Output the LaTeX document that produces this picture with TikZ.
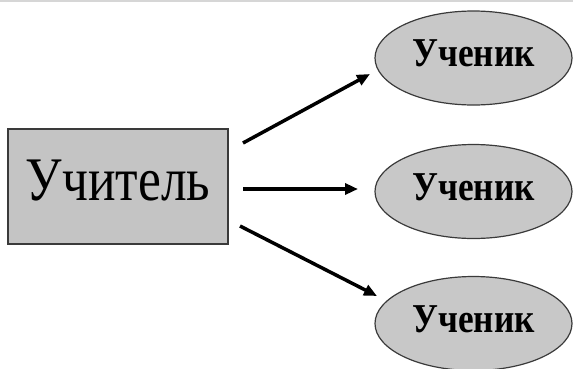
\documentclass[tikz,border=0pt]{standalone}
\usepackage{fontspec}
\setmainfont{Liberation Serif}
\usetikzlibrary{arrows.meta,shapes.geometric}
\definecolor{boxfill}{HTML}{C4C4C4}
\definecolor{ellfill}{HTML}{C8C8C8}
\definecolor{edgecol}{HTML}{3A3A3A}
\definecolor{topline}{HTML}{D6D6D6}
\begin{document}
\begin{tikzpicture}[x=1pt,y=-1pt,
  teacher/.style={rectangle,draw=edgecol,line width=1.5pt,fill=boxfill,
    minimum width=220pt,minimum height=115pt,inner sep=0pt,text depth=12pt,
    font=\fontsize{62}{62}\selectfont},
  pupil/.style={ellipse,draw=edgecol,line width=1.2pt,fill=ellfill,
    minimum width=197pt,minimum height=94pt,inner sep=0pt,text depth=9pt,
    font=\fontsize{41}{41}\selectfont\bfseries},
  arr/.style={line width=3.5pt,-{Triangle[length=13pt,width=11pt]}}
]
\useasboundingbox (0,0) rectangle (573,368);
\fill[white] (0,0) rectangle (573,368);
\draw[topline,line width=2pt] (0,1) -- (573,1);

\node[teacher] (t) at (118,186.5) {\scalebox{0.83}[1]{Учитель}};
\node[pupil] (p1) at (473.5,58) {\scalebox{0.86}[1]{Ученик}};
\node[pupil] (p2) at (473.5,191.5) {\scalebox{0.86}[1]{Ученик}};
\node[pupil] (p3) at (473.5,323.5) {\scalebox{0.86}[1]{Ученик}};

\coordinate (a1s) at (243,143);
\coordinate (a1e) at (370,74);
\coordinate (a2s) at (243,189);
\coordinate (a2e) at (358,189);
\coordinate (a3s) at (240,226);
\coordinate (a3e) at (377,296);

\draw[arr] (a1s) -- (a1e);
\draw[arr] (a2s) -- (a2e);
\draw[arr] (a3s) -- (a3e);
\end{tikzpicture}
\end{document}
